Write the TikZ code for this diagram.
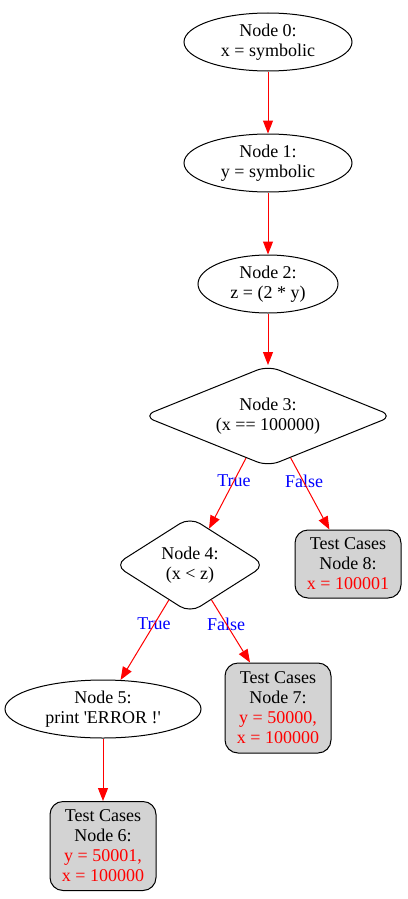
\documentclass[tikz,border=0pt]{standalone}
\usepackage{fontspec}
\setmainfont{Liberation Serif}
\usetikzlibrary{shapes.geometric,arrows.meta}
\begin{document}
\begin{tikzpicture}[x=1pt,y=-1pt,
  every node/.style={font=\fontsize{18}{20}\selectfont, align=center},
  ell/.style={draw, ellipse, line width=1pt, inner sep=0pt},
  dia/.style={draw, diamond, line width=1pt, inner sep=0pt, rounded corners=12pt},
  tc/.style={draw, rounded corners=13pt, fill={rgb,255:red,211;green,211;blue,211}, line width=1pt, inner sep=0pt, minimum width=106pt},
  edge/.style={draw=red, line width=1pt, -{Triangle[length=13pt,width=10pt,fill=red]}},
  lbl/.style={text=blue, inner sep=0pt}
]
\useasboundingbox (0,0) rectangle (407,899);
\node[ell, minimum width=168pt, minimum height=58pt] (n0) at (268,42) {Node 0:\\x = symbolic};
\node[ell, minimum width=168pt, minimum height=58pt] (n1) at (268,163) {Node 1:\\y = symbolic};
\node[ell, minimum width=140pt, minimum height=58pt] (n2) at (268,284) {Node 2:\\z = (2 * y)};
\node[dia, minimum width=250pt, minimum height=101pt, aspect=2.48] (n3) at (268,416) {Node 3:\\(x == 100000)};
\node[tc, minimum height=68pt] (n8) at (348,564) {Test Cases\\Node 8:\\\textcolor{red}{x = 100001}};
\node[dia, minimum width=151pt, minimum height=96pt, aspect=1.57] (n4) at (190,565) {Node 4:\\(x < z)};
\node[ell, minimum width=196pt, minimum height=58pt] (n5) at (103,709) {Node 5:\\print \textquotesingle ERROR !\textquotesingle};
\node[tc, minimum height=90pt] (n7) at (278,708) {Test Cases\\Node 7:\\\textcolor{red}{y = 50000,}\\\textcolor{red}{x = 100000}};
\node[tc, minimum height=89pt] (n6) at (103,846) {Test Cases\\Node 6:\\\textcolor{red}{y = 50001,}\\\textcolor{red}{x = 100000}};
\node[lbl] (l34) at (234,481) {True};
\node[lbl] (l38) at (304,481) {False};
\node[lbl] (l45) at (154,624) {True};
\node[lbl] (l47) at (226,624) {False};
\path[edge] (n0) -- (n1);
\path[edge] (n1) -- (n2);
\path[edge] (n2) -- (n3);
\path[edge] (n3) -- (n4);
\path[edge] (n3) -- (n8);
\path[edge] (n4) -- (n5);
\path[edge] (n4) -- (n7);
\path[edge] (n5) -- (n6);
\end{tikzpicture}
\end{document}
